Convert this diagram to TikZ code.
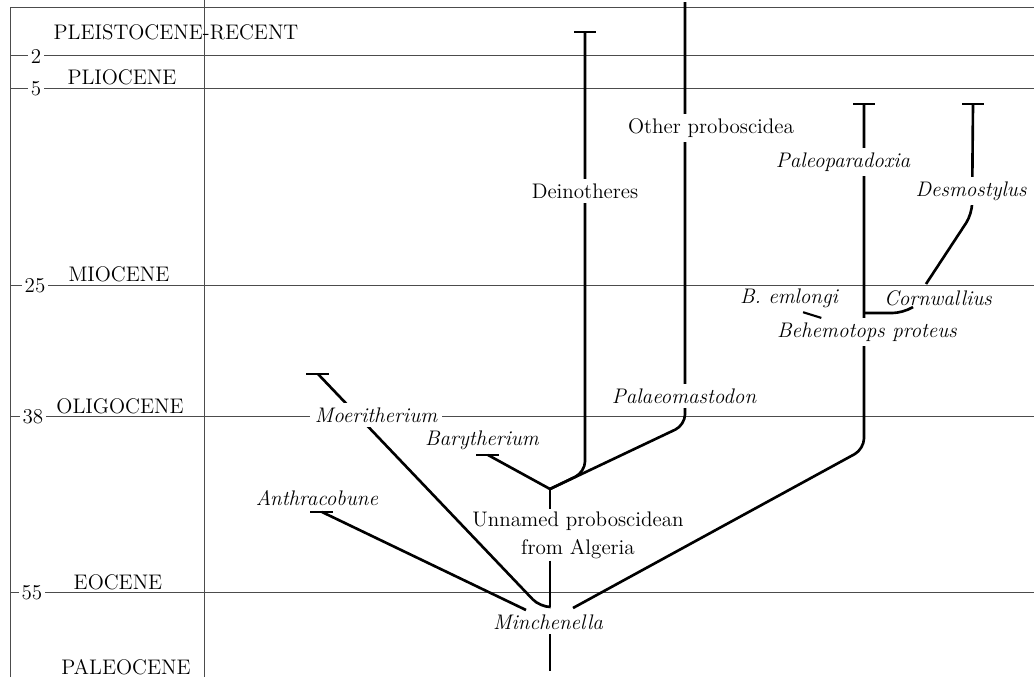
\documentclass[tikz,border=0pt]{standalone}

\tikzset{
  timeline/.style={line width=0.5pt, black!70},
  branch/.style={line width=1.5pt, rounded corners=6pt},
  epoch/.style={font=\fontsize{12}{14}\selectfont, inner sep=1pt},
  age/.style={font=\fontsize{12}{14}\selectfont, fill=white, inner sep=1.5pt},
  taxon/.style={font=\fontsize{12}{14}\selectfont\itshape, inner sep=2.5pt},
  group/.style={font=\fontsize{12}{16}\selectfont, inner sep=2.5pt},
  cut/.style={fill=white},
}

\begin{document}
\begin{tikzpicture}[x=0.02cm, y=-0.02cm]
  \useasboundingbox (0,0) rectangle (1034,677);

  % time scale
  \draw[timeline] (10,677) -- (10,7) -- (1034,7);
  \draw[timeline] (204,0) -- (204,677);
  \foreach \y in {55,88,285,416,592}
    \draw[timeline] (10,\y) -- (1034,\y);

  \node[age] (ma2)  at (36,56)  {2};
  \node[age] (ma5)  at (36,89)  {5};
  \node[age] (ma25) at (35,286) {25};
  \node[age] (ma38) at (33,417) {38};
  \node[age] (ma55) at (32,593) {55};

  \node[epoch] (pleist) at (176,32)  {PLEISTOCENE-RECENT};
  \node[epoch] (plio)   at (122,77)  {PLIOCENE};
  \node[epoch] (mio)    at (119,274) {MIOCENE};
  \node[epoch] (oligo)  at (120,406) {OLIGOCENE};
  \node[epoch] (eo)     at (118,582) {EOCENE};
  \node[epoch] (paleoc) at (126,667) {PALEOCENE};

  % tips of the branches
  \coordinate (deinTip)  at (585,32);
  \coordinate (otherTip) at (685,2);
  \coordinate (paraTip)  at (864,104);
  \coordinate (desmoTip) at (973,104);
  \coordinate (moerTip)  at (318,374);
  \coordinate (baryTip)  at (488,455);
  \coordinate (anthTip)  at (322,512);

  % branching points
  \coordinate (probo)    at (550,489);
  \coordinate (root)     at (550,607);
  \coordinate (stemEnd)  at (550,671);
  \coordinate (anthEnd)  at (526,610);
  \coordinate (behemEnd) at (573,608);
  \coordinate (cornwLo)  at (864,313);
  \coordinate (cornwHi)  at (926,284);

  % proboscideans
  \draw[branch] (deinTip) -- (585,472) -- (probo);
  \draw[branch] (otherTip) -- (685,425) -- (probo);
  \draw[branch] (baryTip) -- (probo);
  \draw[branch] (moerTip) -- (540,607) -- (root);
  \draw[branch] (anthTip) -- (anthEnd);

  % desmostylians
  \draw[branch] (behemEnd) -- (864,449) -- (paraTip);
  \draw[branch] (cornwLo) -- (903,313) -- (913,307);
  \draw[branch] (cornwHi) -- (972,214) -- (desmoTip);

  % end bars
  \foreach \t in {deinTip,paraTip,desmoTip}
    \draw[branch] (\t) ++(-11,0) -- ++(22,0);
  \foreach \t in {moerTip,baryTip,anthTip}
    \draw[branch] (\t) ++(-12,0) -- ++(23,0);

  % names (on white where they break a branch)
  \node[group, cut] (dein)  at (585,191) {Deinotheres};
  \node[group, cut] (other) at (711,128) {Other proboscidea};
  \node[taxon, cut] (palmast) at (684,396) {Palaeomastodon};
  \node[taxon, cut] (moer)  at (376,415) {Moeritherium};
  \node[taxon] (bary)  at (482,440) {Barytherium};
  \node[taxon] (anth)  at (317,498) {Anthracobune};
  \node[group, align=center, inner sep=1pt] (unnamed) at (578,535)
    {Unnamed proboscidean\\from Algeria};
  \node[taxon] (minch) at (548,622) {Minchenella};
  \node[taxon, cut] (para)  at (843,162) {Paleoparadoxia};
  \node[taxon, cut] (desmo) at (971,191) {Desmostylus};
  \node[taxon] (cornw) at (938,298) {Cornwallius};
  \node[taxon] (emlongi) at (789,298) {B.~emlongi};
  \node[taxon, cut] (behem) at (867,332) {Behemotops proteus};

  % stem through the unnamed form down to the root
  \draw[branch] (probo) -- (probo |- unnamed.north);
  \draw[branch] (probo |- unnamed.south) -- (root);
  \draw[branch] (root |- minch.south) -- (stemEnd);

  \draw[line width=1.2pt] ([xshift=8pt]emlongi.south) -- ([xshift=-26pt]behem.north);
\end{tikzpicture}
\end{document}
